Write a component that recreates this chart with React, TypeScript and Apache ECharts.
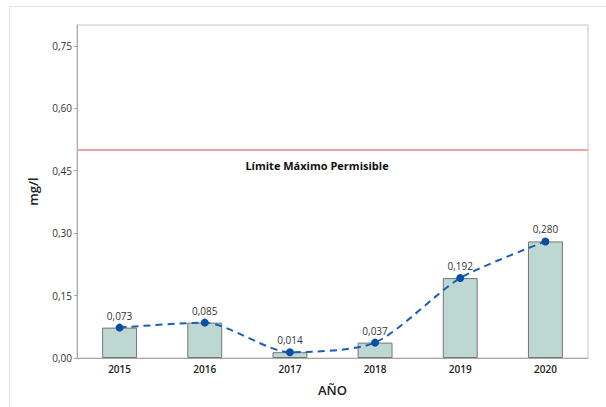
import React, { useEffect, useRef } from "react";
import * as echarts from "echarts";

const years = ["2015", "2016", "2017", "2018", "2019", "2020"];
const values = [0.073, 0.085, 0.014, 0.037, 0.192, 0.28];
const limitValue = 0.5;
const limitLabel = "Límite Máximo Permisible";
const yTitle = "mg/l";
const xTitle = "AÑO";

const fmt = (v: number, d: number) => v.toFixed(d).replace(".", ",");
const FONT = "'Open Sans', 'Noto Sans', sans-serif";

export default function App() {
  const ref = useRef<HTMLDivElement>(null);
  useEffect(() => {
    if (!ref.current) return;
    const chart = echarts.init(ref.current, undefined, { renderer: "svg" });
    chart.setOption({
      animation: false,
      textStyle: { fontFamily: FONT },
      grid: {
        left: 77,
        right: 18,
        top: 25,
        bottom: 49,
        show: true,
        borderColor: "#c4c4c4",
        borderWidth: 1,
        backgroundColor: "#fff",
      },
      graphic: [
        {
          type: "line",
          shape: { x1: 9.5, y1: 6.5, x2: 606, y2: 6.5 },
          style: { stroke: "#e4e4e4", lineWidth: 1 },
          silent: true,
        },
        {
          type: "line",
          shape: { x1: 9.5, y1: 6.5, x2: 9.5, y2: 407 },
          style: { stroke: "#e4e4e4", lineWidth: 1 },
          silent: true,
        },
        {
          type: "text",
          x: 317,
          y: 165,
          style: {
            text: limitLabel,
            fontFamily: FONT,
            fontSize: 11,
            fontWeight: "bold",
            fill: "#111",
            align: "center",
            verticalAlign: "middle",
          },
          silent: true,
        },
      ],
      xAxis: {
        type: "category",
        data: years,
        name: xTitle,
        nameLocation: "middle",
        nameGap: 25,
        nameTextStyle: { fontSize: 13, fontWeight: 600, color: "#222", fontFamily: FONT },
        axisLine: { lineStyle: { color: "#a8a8a8" } },
        axisTick: { alignWithLabel: true, length: 3, lineStyle: { color: "#bbb" } },
        axisLabel: { fontSize: 10, fontWeight: 600, color: "#222", margin: 6, fontFamily: FONT },
      },
      yAxis: {
        type: "value",
        min: 0,
        max: 0.8,
        interval: 0.15,
        name: yTitle,
        nameLocation: "middle",
        nameGap: 38,
        nameTextStyle: { fontSize: 13, fontWeight: 600, color: "#222", fontFamily: FONT },
        splitLine: { show: false },
        axisLine: { show: true, lineStyle: { color: "#a8a8a8" } },
        axisTick: { show: true, length: 3, lineStyle: { color: "#a8a8a8" } },
        axisLabel: {
          fontSize: 10,
          color: "#333",
          margin: 5,
          showMaxLabel: false,
          fontFamily: FONT,
          formatter: (v: number) => (v > 0.76 ? "" : fmt(v, 2)),
        },
      },
      series: [
        {
          type: "bar",
          data: values,
          barWidth: "41%",
          itemStyle: { color: "#bdd7d2", borderColor: "#777", borderWidth: 1 },
          markLine: {
            silent: true,
            symbol: "none",
            label: { show: false },
            lineStyle: { color: "#f2a0a0", width: 2, type: "solid" },
            data: [{ yAxis: limitValue }],
          },
        },
        {
          type: "line",
          data: values,
          smooth: 0.25,
          symbol: "circle",
          symbolSize: 8,
          itemStyle: { color: "#0b4fa3" },
          lineStyle: { color: "#1a5fb4", width: 2, type: [7, 5] },
          label: {
            show: true,
            position: "top",
            distance: 3,
            fontSize: 10,
            color: "#333",
            fontFamily: FONT,
            formatter: (p: any) => fmt(p.value, 3),
          },
          z: 5,
        },
      ],
    });
    return () => chart.dispose();
  }, []);
  return (
    <div
      ref={ref}
      style={{ position: "absolute", left: 0, top: 0, width: 606, height: 407, background: "#fff" }}
    />
  );
}
